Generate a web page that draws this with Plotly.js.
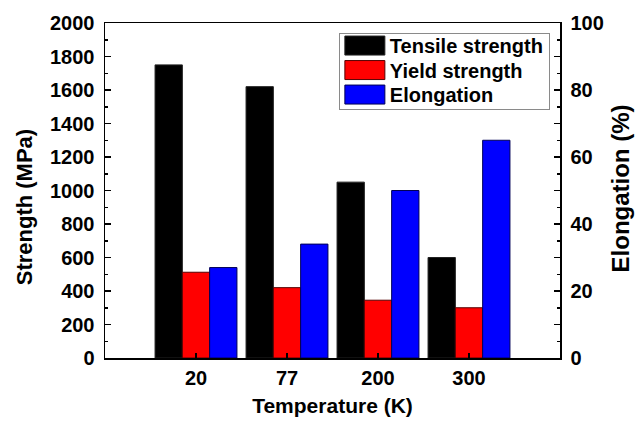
<!DOCTYPE html>
<html>
<head>
<meta charset="utf-8">
<script src="https://cdn.plot.ly/plotly-3.0.1.min.js"></script>
<style>html,body{margin:0;padding:0;background:#fff;}#chart{width:638px;height:421px;}</style>
</head>
<body>
<div id="chart"></div>
<script>
// Data
const temperatures = ["20", "77", "200", "300"];
const tensileStrength = [1750, 1620, 1050, 600];   // MPa
const yieldStrength = [512, 420, 345, 300];       // MPa
const elongation = [27, 34, 50, 65];              // %
const strengthTicks = [0, 200, 400, 600, 800, 1000, 1200, 1400, 1600, 1800, 2000];
const elongTickVals = [0, 10, 20, 30, 40, 50, 60, 70, 80, 90, 100];
const elongTickText = ["0", "", "20", "", "40", "", "60", "", "80", "", "100"];

const FONT = "Liberation Sans, Arial, sans-serif";
const barW = 0.3;

const traces = [
  {type: "bar", name: "Tensile strength", x: temperatures, y: tensileStrength,
   width: barW, offset: -0.45, xaxis: "x", yaxis: "y",
   marker: {color: "#000000", line: {color: "#222222", width: 1}}},
  {type: "bar", name: "Yield strength", x: temperatures, y: yieldStrength,
   width: barW, offset: -0.15, xaxis: "x", yaxis: "y",
   marker: {color: "#ff0000", line: {color: "#550000", width: 1}}},
  {type: "bar", name: "Elongation", x: temperatures, y: elongation,
   width: barW, offset: 0.15, xaxis: "x", yaxis: "y2",
   marker: {color: "#0000ff", line: {color: "#000055", width: 1}}}
];

const tickFont = {family: FONT, size: 20, color: "#000", weight: "bold"};
const titleFont = {family: FONT, size: 21, color: "#000", weight: "bold"};

const layout = {
  width: 638, height: 421,
  margin: {l: 105, r: 78, t: 23, b: 63, pad: 0},
  paper_bgcolor: "#ffffff", plot_bgcolor: "#ffffff",
  barmode: "overlay",
  showlegend: true,
  legend: {
    x: 0.514, y: 0.97, xanchor: "left", yanchor: "top",
    bgcolor: "#ffffff", bordercolor: "#8a8a8a", borderwidth: 1,
    font: {family: FONT, size: 20, color: "#000", weight: "bold"},
    itemwidth: 40, tracegroupgap: 0
  },
  xaxis: {
    type: "category", range: [-1, 4],
    showline: true, linecolor: "#000", linewidth: 1.5, mirror: true,
    ticks: "inside", ticklen: 5, tickwidth: 1.5, tickcolor: "#000",
    showgrid: false, zeroline: false,
    tickfont: tickFont, ticklabelstandoff: 1,
    title: {text: "Temperature (K)", font: titleFont, standoff: 11}
  },
  yaxis: {
    range: [0, 2000], tickvals: strengthTicks,
    showline: true, linecolor: "#000", linewidth: 1.5,
    ticks: "inside", ticklen: 6, tickwidth: 1.5, tickcolor: "#000",
    minor: {dtick: 100, ticks: "inside", ticklen: 3, tickwidth: 1.5, tickcolor: "#000", showgrid: false},
    showgrid: false, zeroline: false,
    tickfont: tickFont, ticklabelstandoff: 5
  },
  yaxis2: {
    overlaying: "y", side: "right", anchor: "x",
    range: [0, 100], tickvals: elongTickVals, ticktext: elongTickText,
    showline: true, linecolor: "#000", linewidth: 1.5,
    ticks: "inside", ticklen: 6, tickwidth: 1.5, tickcolor: "#000",
    minor: {dtick: 5, ticks: "inside", ticklen: 3, tickwidth: 1.5, tickcolor: "#000", showgrid: false},
    showgrid: false, zeroline: false,
    tickfont: tickFont, ticklabelstandoff: 5
  },
  annotations: [
    {text: "Strength (MPa)", textangle: -90, showarrow: false,
     xref: "paper", yref: "paper", x: -0.178, y: 0.45, xanchor: "center", yanchor: "middle",
     font: {family: FONT, size: 22, color: "#000", weight: "bold"}},
    {text: "Elongation (%)", textangle: -90, showarrow: false,
     xref: "paper", yref: "paper", x: 1.134, y: 0.506, xanchor: "center", yanchor: "middle",
     font: {family: FONT, size: 24, color: "#000", weight: "bold"}}
  ]
};

Plotly.newPlot("chart", traces, layout, {displayModeBar: false, staticPlot: true}).then(function () {
  // Wide rectangular legend swatches and tighter rows, as in the reference
  document.querySelectorAll(".legend .legendpoints path").forEach(function (p) {
    p.setAttribute("d", "M20,9.5H-20V-9.5H20Z");
  });
  document.querySelectorAll(".legend .traces").forEach(function (g, i) {
    const t = g.getAttribute("transform") || "";
    const m = t.match(/translate\(\s*([-\d.]+)[ ,]+([-\d.]+)\s*\)/);
    const x = m ? parseFloat(m[1]) : 1;
    g.setAttribute("transform", "translate(" + x + "," + (12.5 + i * 24.5) + ")");
  });
  const bg = document.querySelector(".legend .bg");
  if (bg) { bg.setAttribute("height", "76"); bg.setAttribute("width", "210"); }
});
</script>
</body>
</html>
